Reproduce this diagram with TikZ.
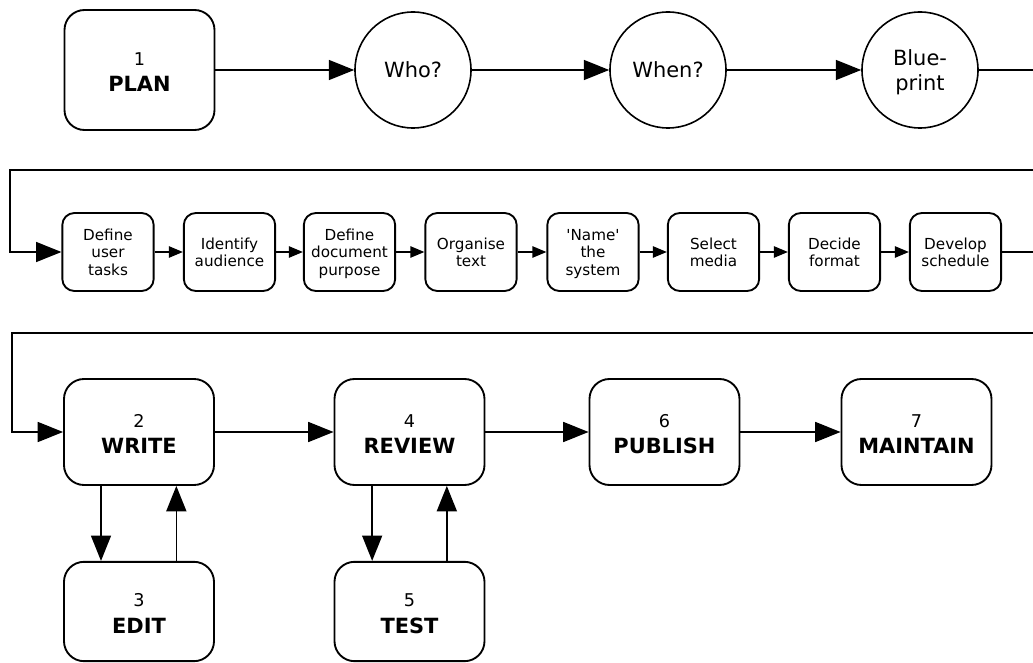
\documentclass[tikz,border=0pt]{standalone}
\usepackage{fontspec}
\setmainfont{DejaVu Sans}[Ligatures=TeXOff]
\usetikzlibrary{arrows.meta}
\tikzset{
  bigbox/.style={draw, line width=1.4pt, rounded corners=15pt, minimum width=112.5pt, minimum height=79.5pt, align=center, inner sep=0pt, text depth=0pt, font=\fontsize{15.7}{20}\selectfont},
  circ/.style={draw, circle, line width=1.2pt, minimum size=87pt, align=center, inner sep=0pt, text depth=0pt, font=\fontsize{15.7}{18.75}\selectfont},
  smallbox/.style={draw, line width=1.4pt, rounded corners=9pt, minimum width=68.5pt, minimum height=58.5pt, align=center, inner sep=0pt, text depth=0pt, font=\fontsize{11.4}{13.1}\selectfont},
  conn/.style={line width=1.1pt},
  bigarr/.style={conn, -{Triangle[length=19pt,width=15pt]}},
  smallarr/.style={conn, -{Triangle[length=10.5pt,width=8.5pt]}},
}
\newcommand{\num}[1]{{\fontsize{13.2}{20}\selectfont\rule{0pt}{12.8pt}#1}}
\begin{document}
\begin{tikzpicture}[x=0.75pt,y=-0.75pt]
\useasboundingbox (0,0) rectangle (1033,663);
% row 1
\node[bigbox, minimum height=90pt] (plan) at (139.5,70) {\num{1}\\\textbf{PLAN}};
\node[circ] (who) at (413,70) {Who?};
\node[circ] (when) at (668,70) {When?};
\node[circ] (bp) at (920,70) {Blue-\\print};
\coordinate (e1) at (1033,70);
\coordinate (e2) at (1033,170);
\coordinate (c1) at (10,170);
\draw[bigarr] (plan) -- (who);
\draw[bigarr] (who) -- (when);
\draw[bigarr] (when) -- (bp);
\draw[conn] (bp) -- (e1);
% row 2
\node[smallbox] (d1) at (108,252) {Define\\user\\tasks};
\node[smallbox] (d2) at (229.5,252) {Identify\\audience};
\node[smallbox] (d3) at (349.5,252) {Define\\document\\purpose};
\node[smallbox] (d4) at (471,252) {Organise\\text};
\node[smallbox] (d5) at (593,252) {'Name'\\the\\system};
\node[smallbox] (d6) at (713.5,252) {Select\\media};
\node[smallbox] (d7) at (834.5,252) {Decide\\format};
\node[smallbox] (d8) at (955.5,252) {Develop\\schedule};
\draw[bigarr] (e2) -- (c1) |- (d1);
\draw[smallarr] (d1) -- (d2);
\draw[smallarr] (d2) -- (d3);
\draw[smallarr] (d3) -- (d4);
\draw[smallarr] (d4) -- (d5);
\draw[smallarr] (d5) -- (d6);
\draw[smallarr] (d6) -- (d7);
\draw[smallarr] (d7) -- (d8);
\coordinate (e3) at (1033,252);
\coordinate (e4) at (1033,333);
\coordinate (c2) at (12,333);
\draw[conn] (d8) -- (e3);
% row 3
\node[bigbox] (write) at (139,432) {\num{2}\\\textbf{WRITE}};
\node[bigbox] (review) at (409.5,432) {\num{4}\\\textbf{REVIEW}};
\node[bigbox] (publish) at (664.5,432) {\num{6}\\\textbf{PUBLISH}};
\node[bigbox] (maintain) at (916.5,432) {\num{7}\\\textbf{MAINTAIN}};
\node[bigbox, minimum height=74.5pt] (edit) at (139,611.5) {\num{3}\\\textbf{EDIT}};
\node[bigbox, minimum height=74.5pt] (test) at (409.5,611.5) {\num{5}\\\textbf{TEST}};
\draw[bigarr] (e4) -- (c2) |- (write);
\draw[bigarr] (write) -- (review);
\draw[bigarr] (review) -- (publish);
\draw[bigarr] (publish) -- (maintain);
\draw[bigarr] ([xshift=-28.5pt]write.south) -- ([xshift=-28.5pt]edit.north);
\draw[bigarr] ([xshift=28pt]edit.north) -- ([xshift=28pt]write.south);
\draw[bigarr] ([xshift=-28pt]review.south) -- ([xshift=-28pt]test.north);
\draw[bigarr] ([xshift=28pt]test.north) -- ([xshift=28pt]review.south);
\end{tikzpicture}
\end{document}
